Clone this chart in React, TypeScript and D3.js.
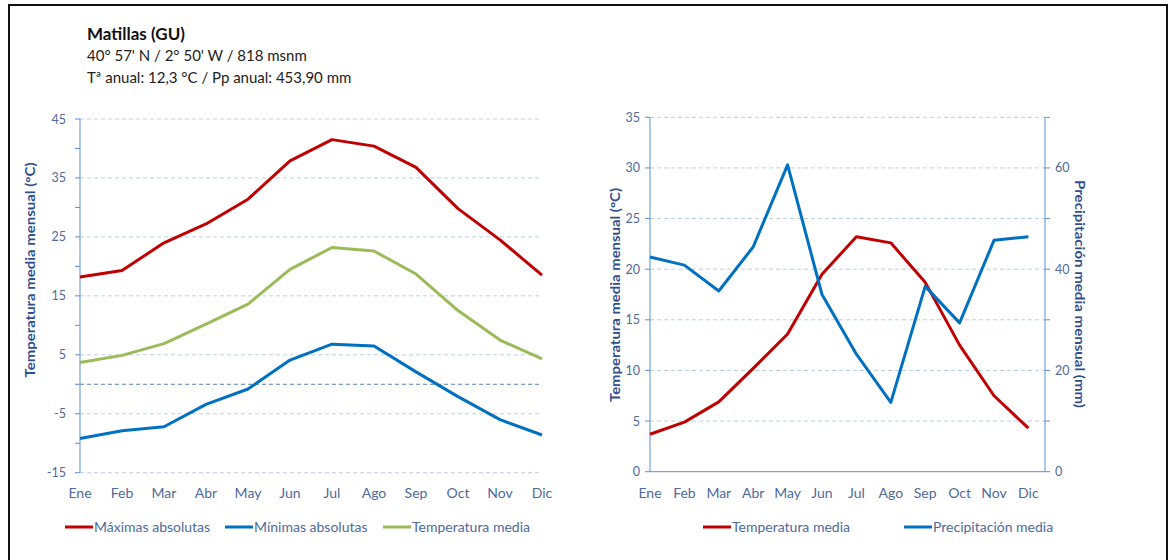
import React from "react";
import * as d3 from "d3";

const months = ["Ene", "Feb", "Mar", "Abr", "May", "Jun", "Jul", "Ago", "Sep", "Oct", "Nov", "Dic"];
const tMax = [18.2, 19.3, 24.0, 27.2, 31.4, 37.9, 41.5, 40.4, 36.8, 29.8, 24.5, 18.5];
const tMin = [-9.2, -7.9, -7.2, -3.4, -0.8, 4.1, 6.8, 6.5, 2.1, -2.1, -6.0, -8.6];
const tMed = [3.7, 4.9, 6.9, 10.2, 13.6, 19.5, 23.2, 22.6, 18.7, 12.5, 7.5, 4.3];
const precip = [42.4, 40.8, 35.7, 44.4, 60.6, 35.0, 23.2, 13.7, 36.6, 29.4, 45.7, 46.4];
const leftTickLabels = [-15, -5, 5, 15, 25, 35, 45];
const leftMinorTicks = [-15, -10, -5, 0, 5, 10, 15, 20, 25, 30, 35, 40, 45];
const rightTempTicks = [0, 5, 10, 15, 20, 25, 30, 35];
const rightPrecipTicks = [0, 20, 40, 60];
const rightPrecipMinor = [0, 10, 20, 30, 40, 50, 60, 70];

const RED = "#c00000";
const BLUE = "#0070c0";
const GREEN = "#9bbb59";
const AXIS = "#5b8fd6";
const GRID = "#b9cfe8";
const LABEL = "#4f6a9c";
const TITLE = "#2f4f8f";
const FONT = "Lato, 'Open Sans', sans-serif";

export default function App() {
  // Left chart scales
  const xL = d3.scalePoint<string>().domain(months).range([80, 542]);
  const yL = d3.scaleLinear().domain([-15, 45]).range([472.7, 119]);
  // Right chart scales
  const xR = d3.scalePoint<string>().domain(months).range([650, 1028.4]);
  const yRT = d3.scaleLinear().domain([0, 35]).range([471.7, 117.3]);
  const yRP = d3.scaleLinear().domain([0, 70]).range([471.7, 117.3]);

  const lineL = (vals: number[]) =>
    d3.line<number>().x((_, i) => xL(months[i]) as number).y((v) => yL(v))(vals) || "";
  const lineRT = d3.line<number>().x((_, i) => xR(months[i]) as number).y((v) => yRT(v));
  const lineRP = d3.line<number>().x((_, i) => xR(months[i]) as number).y((v) => yRP(v));

  const legendItem = (x: number, color: string, label: string) => (
    <g key={label}>
      <line x1={x} x2={x + 28} y1={527} y2={527} stroke={color} strokeWidth={3} />
      <text x={x + 29} y={532} fontSize={14} fill={LABEL} fontFamily={FONT}>{label}</text>
    </g>
  );

  return (
    <svg width={1170} height={560} style={{ position: "absolute", left: 0, top: 0, background: "#fff" }}>
      <rect x={0} y={0} width={1170} height={560} fill="#fff" />
      {/* border */}
      <path d="M9,562 L9,5 L1167,5 L1167,562" fill="none" stroke="#111" strokeWidth={2} />

      {/* header */}
      <text x={87} y={40} fontSize={17} fontWeight="bold" fill="#111" fontFamily={FONT}>Matillas (GU)</text>
      <text x={87} y={61} fontSize={15} fill="#222" fontFamily={FONT}>40° 57' N / 2° 50' W / 818 msnm</text>
      <text x={87} y={83} fontSize={15} fill="#222" fontFamily={FONT}>Tª anual: 12,3 °C / Pp anual: 453,90 mm</text>

      {/* LEFT CHART */}
      {leftTickLabels.map((t) => (
        <line key={"lg" + t} x1={80} x2={542} y1={yL(t)} y2={yL(t)} stroke={GRID} strokeDasharray="4,3" strokeWidth={1} />
      ))}
      <line x1={80} x2={542} y1={yL(0)} y2={yL(0)} stroke="#5a7fb8" strokeDasharray="4,3" strokeWidth={1} />
      <line x1={80} x2={80} y1={yL(45)} y2={yL(-15)} stroke={AXIS} strokeWidth={1} />
      {leftMinorTicks.map((t) => (
        <line key={"lt" + t} x1={75} x2={80} y1={yL(t)} y2={yL(t)} stroke={AXIS} strokeWidth={1} />
      ))}
      {leftTickLabels.map((t) => (
        <text key={"ll" + t} x={66} y={yL(t) + 4.5} textAnchor="end" fontSize={12.5} fill={LABEL} fontFamily={FONT}>{t}</text>
      ))}
      {months.map((m) => (
        <text key={"lx" + m} x={xL(m)} y={497.5} textAnchor="middle" fontSize={14} fill={LABEL} fontFamily={FONT}>{m}</text>
      ))}
      <text transform="translate(35,270) rotate(-90)" textAnchor="middle" fontSize={14} fontWeight="bold" fill={TITLE} fontFamily={FONT} textLength={215} lengthAdjust="spacingAndGlyphs">
        Temperatura media mensual (°C)
      </text>
      <path d={lineL(tMax)} fill="none" stroke={RED} strokeWidth={3} strokeLinejoin="round" />
      <path d={lineL(tMed)} fill="none" stroke={GREEN} strokeWidth={3} strokeLinejoin="round" />
      <path d={lineL(tMin)} fill="none" stroke={BLUE} strokeWidth={3} strokeLinejoin="round" />

      {legendItem(65, RED, "Máximas absolutas")}
      {legendItem(225, BLUE, "Mínimas absolutas")}
      {legendItem(383, GREEN, "Temperatura media")}

      {/* RIGHT CHART */}
      {rightTempTicks.filter((t) => t > 0).map((t) => (
        <line key={"rg" + t} x1={650} x2={1045} y1={yRT(t)} y2={yRT(t)} stroke={GRID} strokeDasharray="4,3" strokeWidth={1} />
      ))}
      <line x1={650} x2={1045} y1={yRT(0)} y2={yRT(0)} stroke={AXIS} strokeWidth={1} />
      <line x1={650} x2={650} y1={yRT(35)} y2={yRT(0)} stroke={AXIS} strokeWidth={1} />
      <line x1={1045} x2={1045} y1={yRP(70)} y2={yRP(0)} stroke={AXIS} strokeWidth={1} />
      {rightTempTicks.map((t) => (
        <line key={"rtt" + t} x1={645} x2={650} y1={yRT(t)} y2={yRT(t)} stroke={AXIS} strokeWidth={1} />
      ))}
      {rightPrecipMinor.map((t) => (
        <line key={"rpt" + t} x1={1045} x2={1050} y1={yRP(t)} y2={yRP(t)} stroke={AXIS} strokeWidth={1} />
      ))}
      {rightTempTicks.map((t) => (
        <text key={"rtl" + t} x={640} y={yRT(t) + 4.5} textAnchor="end" fontSize={12.5} fill={LABEL} fontFamily={FONT}>{t}</text>
      ))}
      {rightPrecipTicks.map((t) => (
        <text key={"rpl" + t} x={1055} y={yRP(t) + 4.5} textAnchor="start" fontSize={12.5} fill={LABEL} fontFamily={FONT}>{t}</text>
      ))}
      {months.map((m) => (
        <text key={"rx" + m} x={xR(m)} y={497.5} textAnchor="middle" fontSize={14} fill={LABEL} fontFamily={FONT}>{m}</text>
      ))}
      <text transform="translate(620,295) rotate(-90)" textAnchor="middle" fontSize={14} fontWeight="bold" fill={TITLE} fontFamily={FONT} textLength={214} lengthAdjust="spacingAndGlyphs">
        Temperatura media mensual (°C)
      </text>
      <text transform="translate(1075,294) rotate(90)" textAnchor="middle" fontSize={14} fontWeight="bold" fill={TITLE} fontFamily={FONT} textLength={228} lengthAdjust="spacingAndGlyphs">
        Precipitación media mensual (mm)
      </text>
      <path d={lineRT(tMed) || ""} fill="none" stroke={RED} strokeWidth={3} strokeLinejoin="round" />
      <path d={lineRP(precip) || ""} fill="none" stroke={BLUE} strokeWidth={3} strokeLinejoin="round" />

      {legendItem(703, RED, "Temperatura media")}
      {legendItem(904, BLUE, "Precipitación media")}
    </svg>
  );
}
